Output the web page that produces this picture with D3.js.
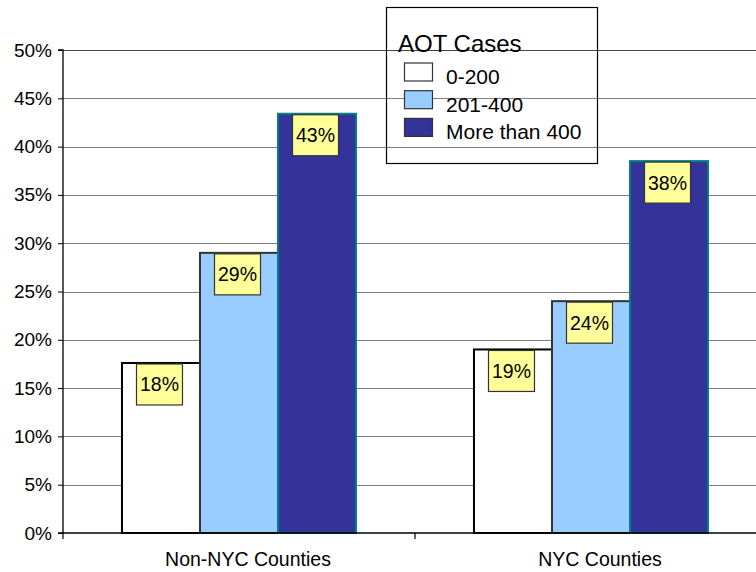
<!DOCTYPE html>
<html>
<head>
<meta charset="utf-8">
<script src="https://cdn.jsdelivr.net/npm/d3@7"></script>
<style>
  html, body { margin: 0; padding: 0; background: #fff; }
  svg { display: block; font-family: "Liberation Sans", Arial, sans-serif; }
</style>
</head>
<body>
<svg id="chart" width="756" height="572"></svg>
<script>
const categories = ["Non-NYC Counties", "NYC Counties"];
const seriesNames = ["0-200", "201-400", "More than 400"];
const values0to200 = [0.176, 0.190];
const values201to400 = [0.290, 0.240];
const valuesOver400 = [0.434, 0.385];
const valueLabels = [["18%", "29%", "43%"], ["19%", "24%", "38%"]];
const yTicks = [0, 0.05, 0.10, 0.15, 0.20, 0.25, 0.30, 0.35, 0.40, 0.45, 0.50];
const legendTitle = "AOT Cases";

(function () {
const seriesValues = [values0to200, values201to400, valuesOver400];
const fills = ["#FFFFFF", "#99CCFF", "#333399"];
const strokes = ["#000000", "#333333", "#008080"];

const svg = d3.select("#chart");
const pLeft = 63, pRight = 767, pTop = 50, pBottom = 533;

const x0 = d3.scaleBand().domain(categories).range([pLeft, pRight]).paddingInner(0).paddingOuter(0);
const x1 = d3.scaleBand().domain(seriesNames).range([0, x0.bandwidth()]).paddingInner(0).paddingOuter(0.756);
const y = d3.scaleLinear().domain([0, 0.5]).range([pBottom, pTop]);

// gridlines
svg.append("g")
  .selectAll("line")
  .data(yTicks.filter(t => t > 0))
  .join("line")
  .attr("x1", pLeft).attr("x2", 756)
  .attr("y1", d => Math.round(y(d)) + 0.5).attr("y2", d => Math.round(y(d)) + 0.5)
  .attr("stroke", d => d === 0.5 ? "#444" : "#808080")
  .attr("stroke-width", 1.2);

// y axis
const yAxis = d3.axisLeft(y).tickValues(yTicks).tickFormat(d3.format(".0%")).tickSize(5).tickPadding(6);
const gy = svg.append("g").attr("transform", `translate(${pLeft},0)`).call(yAxis);
gy.select(".domain").attr("stroke", "#000").attr("stroke-width", 1.3).attr("d", `M-5,${pTop}H0V${pBottom}H-5`);
gy.selectAll(".tick line").attr("stroke", "#000");
gy.selectAll(".tick text").attr("font-size", 19).attr("fill", "#000").attr("font-family", "Liberation Sans, Arial, sans-serif");

// bars
const groups = svg.append("g")
  .selectAll("g")
  .data(categories)
  .join("g")
  .attr("transform", d => `translate(${x0(d)},0)`);

groups.each(function(cat, ci) {
  const g = d3.select(this);
  seriesNames.forEach((s, si) => {
    const v = seriesValues[si][ci];
    g.append("rect")
      .attr("x", x1(s))
      .attr("y", y(v))
      .attr("width", x1.bandwidth())
      .attr("height", y(0) - y(v))
      .attr("fill", fills[si])
      .attr("stroke", strokes[si])
      .attr("stroke-width", 2);
  });
});

// x axis
const xAxisG = svg.append("g").attr("transform", `translate(0,${pBottom})`);
xAxisG.append("line").attr("x1", pLeft).attr("x2", 756).attr("y1", 0).attr("y2", 0)
  .attr("stroke", "#000").attr("stroke-width", 1.5);
const boundaries = [pLeft].concat(categories.map(c => x0(c) + x0.bandwidth()));
xAxisG.selectAll(".xt").data(boundaries).join("line")
  .attr("x1", d => d).attr("x2", d => d).attr("y1", 0).attr("y2", 6)
  .attr("stroke", "#000").attr("stroke-width", 1.2);
xAxisG.selectAll(".cat").data(categories).join("text")
  .attr("x", d => x0(d) + x0.bandwidth() / 2 + 9)
  .attr("y", 33)
  .attr("text-anchor", "middle")
  .attr("font-size", 19.5)
  .attr("fill", "#000")
  .text(d => d);

// data labels
const boxW = 46, boxH = 41;
groups.each(function(cat, ci) {
  const g = d3.select(this);
  seriesNames.forEach((s, si) => {
    const v = seriesValues[si][ci];
    const cx = x1(s) + x1.bandwidth() / 2 - 1.5;
    const ty = y(v) + 1;
    g.append("rect")
      .attr("x", cx - boxW / 2).attr("y", ty)
      .attr("width", boxW).attr("height", boxH)
      .attr("fill", "#FFFF99").attr("stroke", "#333").attr("stroke-width", 1.2);
    g.append("text")
      .attr("x", cx).attr("y", ty + boxH / 2 + 7)
      .attr("text-anchor", "middle")
      .attr("font-size", 19.5)
      .attr("fill", "#000")
      .text(valueLabels[ci][si]);
  });
});

// legend
const lg = svg.append("g");
lg.append("rect").attr("x", 386.5).attr("y", 7.5).attr("width", 211).attr("height", 156)
  .attr("fill", "none").attr("stroke", "#000").attr("stroke-width", 1.2);
lg.append("text").attr("x", 398).attr("y", 52).attr("font-size", 24).attr("fill", "#000").text(legendTitle);
seriesNames.forEach((s, i) => {
  lg.append("rect").attr("x", 404.5).attr("y", 63 + i * 27.7).attr("width", 28).attr("height", 18)
    .attr("fill", fills[i]).attr("stroke", "#333").attr("stroke-width", 1.2);
  lg.append("text").attr("x", 446).attr("y", 84 + i * 27.5).attr("font-size", 21).attr("fill", "#000").text(s);
});
})();
</script>
</body>
</html>
